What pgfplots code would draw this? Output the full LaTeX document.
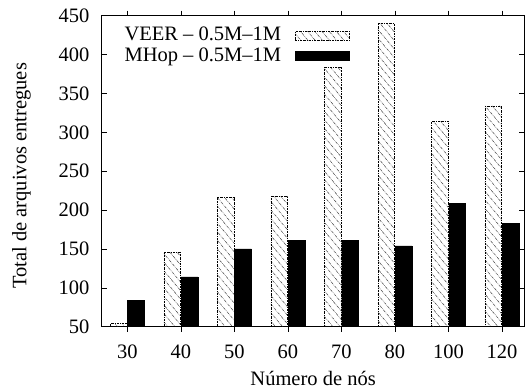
\documentclass[border=0pt]{standalone}
\usepackage{fontspec}
\setmainfont{Liberation Serif}
\usepackage{pgfplots}
\pgfplotsset{compat=1.18}
\usetikzlibrary{patterns.meta}

\pgfplotstableread{
x veer mhop
0 54 84
1 146 114
2 216 150
3 218 161
4 384 161
5 440 154
6 314 209
7 334 183
}\datatable

\begin{document}
\fontsize{20.5bp}{24bp}\selectfont
\begin{tikzpicture}
\path[use as bounding box] (-101.7bp,-65.3bp) rectangle (424.3bp,326.7bp);
\begin{axis}[
  at={(0,0)}, anchor=south west,
  scale only axis, width=422.8bp, height=311bp,
  xmin=-0.48, xmax=7.42, ymin=50, ymax=450,
  xtick={0,...,7}, xticklabels={30,40,50,60,70,80,100,120},
  ytick={50,100,...,450},
  tick align=inside, major tick length=5bp,
  tick style={line width=0.6bp, black},
  axis line style={line width=0.8bp},
  /pgf/number format/assume math mode=true,
  yticklabel style={font=\fontsize{20.5bp}{24bp}\selectfont, inner sep=0bp, xshift=-12bp},
  xticklabel style={font=\fontsize{20.5bp}{24bp}\selectfont, inner sep=0bp, yshift=-13bp},
  xlabel={Número de nós}, ylabel={Total de arquivos entregues},
  label style={font=\fontsize{20.5bp}{24bp}\selectfont},
  xlabel style={at={(axis description cs:0.5,-0.165)}, anchor=center},
  ylabel style={at={(axis description cs:-0.19,0.485)}, anchor=center},
  ybar, bar width=0.31,
  legend plot pos=right,
  legend image code/.code={\draw[#1] (0bp,-4.5bp) rectangle (54bp,4.5bp);},
  legend style={draw=none, fill=none, at={(0.594,0.975)}, anchor=north east,
    font=\fontsize{20.5bp}{24bp}\selectfont, row sep=0.5bp, column sep=0bp,
    nodes={inner sep=1bp, text height=14bp, text depth=4bp}},
  legend cell align=right,
]
\addplot[draw=black, line width=0.5bp, dash pattern=on 2bp off 1bp on 0.6bp off 1bp,
  pattern={Lines[angle=-50, distance=5.5bp, line width=0.5bp]}, pattern color=black!75,
  bar shift=-0.165] table[x=x, y=veer] {\datatable};
\addlegendentry{VEER -- 0.5M--1M\rule{13bp}{0bp}}
\addplot[draw=black, fill=black, bar shift=0.16] table[x=x, y=mhop] {\datatable};
\addlegendentry{MHop -- 0.5M--1M\rule{13bp}{0bp}}
\end{axis}
\end{tikzpicture}
\end{document}
